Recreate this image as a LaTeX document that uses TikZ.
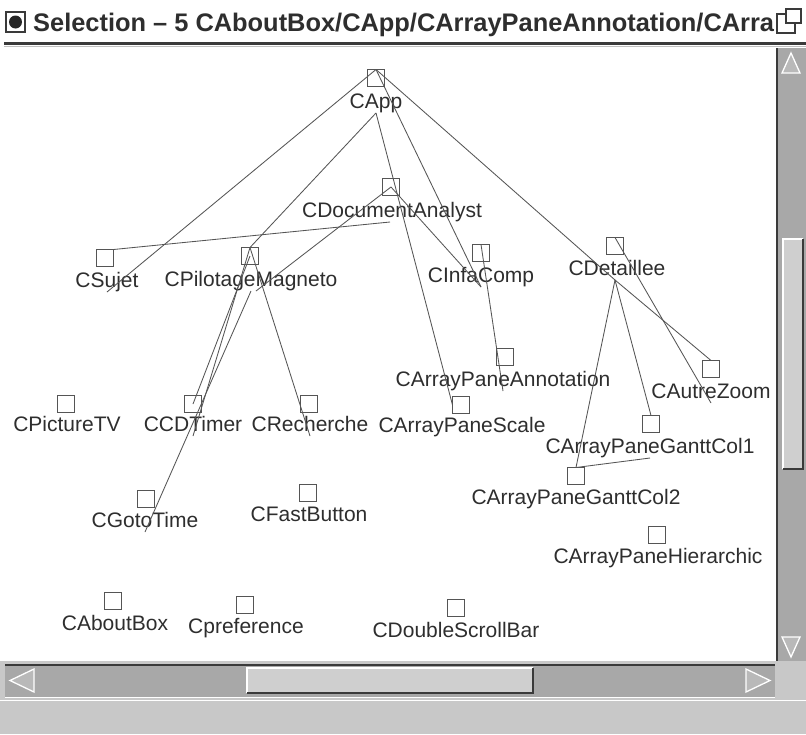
\documentclass[tikz,border=0pt]{standalone}
\usepackage{fontspec}
\newfontfamily\lblfont{Liberation Sans}
\newfontfamily\ttlfont{Liberation Sans}
\definecolor{linec}{HTML}{555555}
\definecolor{textc}{HTML}{2E2E2E}
\definecolor{trough}{HTML}{A8A8A8}
\definecolor{thumbc}{HTML}{CFCFCF}
\definecolor{panel}{HTML}{C8C8C8}
\definecolor{darkc}{HTML}{3A3A3A}
\begin{document}
\begin{tikzpicture}[x=1pt,y=-1pt,
  sq/.style={draw=linec, line width=0.9pt, minimum size=17pt, inner sep=0pt, outer sep=0pt},
  lbl/.style={font={\lblfont\fontsize{21}{25}\selectfont}, text=textc, inner sep=0pt, outer sep=0pt, anchor=base, text height=15pt, text depth=5pt},
  edge/.style={draw=linec, line width=0.85pt},
  ttl/.style={font={\ttlfont\bfseries\fontsize{25.4}{30}\selectfont}, text=textc, inner sep=0pt, anchor=base west},
  hilite/.style={draw=white, line width=1.3pt},
  shade/.style={draw=darkc, line width=1.5pt}
]
\useasboundingbox (0,0) rectangle (806,734);
\fill[white] (0,0) rectangle (806,734);

% ---- title bar ----
\node[ttl] (title) at (33,31) {Selection – 5 CAboutBox/CApp/CArrayPaneAnnotation/CArra};
\fill[white] (776,0) rectangle (806,40);
\draw[darkc, line width=1.2pt] (6,12) rectangle (25,32);
\fill[black!85] (15.5,22) circle (6.5);
\draw[darkc, line width=1.1pt, fill=white] (777,14) rectangle (795,33);
\draw[darkc, line width=1.1pt, fill=white] (786,9) rectangle (801,23);
\draw[darkc, line width=3pt] (4,43.5) -- (806,43.5);
\draw[black!25, line width=1pt] (4,46.5) -- (806,46.5);

% ---- vertical scrollbar ----
\fill[trough] (776,48) rectangle (806,661);
\draw[darkc, line width=1.5pt] (777,48) -- (777,661);
\fill[thumbc] (783,239) rectangle (803,469);
\draw[hilite] (783,469) -- (783,239) -- (803,239);
\draw[shade] (783,469) -- (803,469) -- (803,239);
\draw[hilite, fill=trough!80!white] (791,53) -- (800,73) -- (782,73) -- cycle;
\draw[hilite, fill=trough!80!white] (791,657) -- (800,637) -- (782,637) -- cycle;

% ---- horizontal scrollbar and bottom panel ----
\fill[panel] (0,661) rectangle (806,734);
\fill[trough] (5,665) rectangle (775,697);
\draw[darkc, line width=1.5pt] (5,665) -- (775,665);
\draw[white, line width=1.2pt] (5,697.5) -- (775,697.5);
\draw[white, line width=1pt] (0,700) -- (806,700);
\fill[thumbc] (247,668) rectangle (533,693);
\draw[hilite] (247,693) -- (247,668) -- (533,668);
\draw[shade] (247,693) -- (533,693) -- (533,668);
\draw[hilite, fill=trough!80!white] (10,680.5) -- (34,669) -- (34,692) -- cycle;
\draw[hilite, fill=trough!80!white] (770,680.5) -- (746,669) -- (746,692) -- cycle;

% ---- nodes: squares ----
\node[sq] (app)     at (376,78)  {};
\node[sq] (docan)   at (391,187) {};
\node[sq] (sujet)   at (105,258) {};
\node[sq] (pilot)   at (250,256) {};
\node[sq] (infa)    at (481,253) {};
\node[sq] (detail)  at (615,246) {};
\node[sq] (annot)   at (505,357) {};
\node[sq] (autre)   at (711,369) {};
\node[sq] (picture) at (66,404)  {};
\node[sq] (ccd)     at (193,404) {};
\node[sq] (rech)    at (309,404) {};
\node[sq] (scale)   at (461,405) {};
\node[sq] (col1)    at (651,424) {};
\node[sq] (col2)    at (576,476) {};
\node[sq] (goto)    at (146,499) {};
\node[sq] (fast)    at (308,493) {};
\node[sq] (hier)    at (657,535) {};
\node[sq] (about)   at (113,601) {};
\node[sq] (pref)    at (245,605) {};
\node[sq] (dsb)     at (456,608) {};

% ---- nodes: labels ----
\node[lbl] (appL)     at (376,108) {CApp};
\node[lbl] (docanL)   at (392,217) {CDocumentAnalyst};
\node[lbl] (sujetL)   at (107,287) {CSujet};
\node[lbl] (pilotL)   at (251,286) {CPilotageMagneto};
\node[lbl] (infaL)    at (481,282) {CInfaComp};
\node[lbl] (detailL)  at (617,275) {CDetaillee};
\node[lbl] (annotL)   at (503,386) {CArrayPaneAnnotation};
\node[lbl] (autreL)   at (711,398) {CAutreZoom};
\node[lbl] (pictureL) at (67,431)  {CPictureTV};
\node[lbl] (ccdL)     at (193,431) {CCDTimer};
\node[lbl] (rechL)    at (310,431) {CRecherche};
\node[lbl] (scaleL)   at (462,432) {CArrayPaneScale};
\node[lbl] (col1L)    at (650,453) {CArrayPaneGanttCol1};
\node[lbl] (col2L)    at (576,504) {CArrayPaneGanttCol2};
\node[lbl] (gotoL)    at (145,527) {CGotoTime};
\node[lbl] (fastL)    at (309,521) {CFastButton};
\node[lbl] (hierL)    at (658,563) {CArrayPaneHierarchic};
\node[lbl] (aboutL)   at (115,630) {CAboutBox};
\node[lbl] (prefL)    at (246,633) {Cpreference};
\node[lbl] (dsbL)     at (456,637) {CDoubleScrollBar};

% ---- connectors ----
\draw[edge] (app.north) -- (sujetL.south);
\draw[edge] (appL.south) -- (pilot.north);
\draw[edge] (appL.south) -- (scale.west);
\draw[edge] (app.north) -- (infaL.south);
\draw[edge] (app.north) -- ([xshift=-2pt]detailL.south);
\draw[edge] ([xshift=-2pt]docanL.south) -- (sujet.north east);
\draw[edge] (docan.center) -- ([xshift=5pt]pilotL.south);
\draw[edge] (docan.center) -- (infaL.south);
\draw[edge] (infa.north) -- (annotL.south);
\draw[edge] (pilot.north) -- (ccdL.south);
\draw[edge] (pilot.center) -- (ccd.center);
\draw[edge] (pilotL.south) -- (gotoL.south);
\draw[edge] (pilot.north) -- (rechL.south);
\draw[edge] ([xshift=-2pt]detailL.south) -- (autre.north);
\draw[edge] (detail.north) -- (autreL.south);
\draw[edge] ([xshift=-2pt]detailL.south) -- (col1.north);
\draw[edge] ([xshift=-2pt]detailL.south) -- (col2.north);
\draw[edge] (col2.north) -- (col1L.south);
\end{tikzpicture}
\end{document}
